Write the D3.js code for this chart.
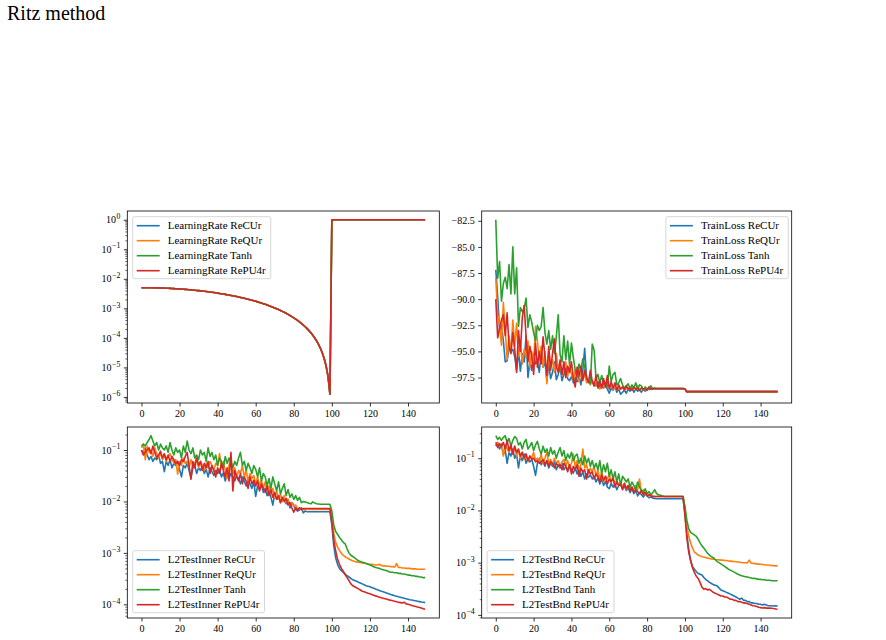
<!doctype html>
<html lang="en">
<head>
<meta charset="UTF-8" />
<title>Ritz method</title>
<script src="https://d3js.org/d3.v7.min.js"></script>
<style>
  body { margin: 0; background: #fff; }
  svg text { font-family: "Liberation Serif", "Times New Roman", serif; fill: #000; }
</style>
</head>
<body>
<svg id="fig" width="886" height="640"></svg>
<script>
// ---- data (one value per epoch, 0..149) ----
const epochs = d3.range(150);
const activations = ['ReCUr', 'ReQUr', 'Tanh', 'RePU4r'];
const colors = ['#1f77b4', '#ff7f0e', '#2ca02c', '#d62728'];
const xTicks = [0, 20, 40, 60, 80, 100, 120, 140];
const lossTicks = [-82.5, -85, -87.5, -90, -92.5, -95, -97.5];
const lrExponents = [0, -1, -2, -3, -4, -5, -6];
const innerExponents = [-1, -2, -3, -4];
const bndExponents = [-1, -2, -3, -4];

// learning rate is the same schedule for all four runs
const learningRate = [
  0.005,0.005,0.004995,0.004989,0.00498,0.004969,0.004956,0.00494,0.004921,0.004901,
  0.004878,0.004852,0.004824,0.004794,0.004762,0.004728,0.004691,0.004652,0.004611,0.004568,
  0.004523,0.004475,0.004426,0.004375,0.004322,0.004268,0.004211,0.004153,0.004094,0.004032,
  0.003969,0.003905,0.00384,0.003773,0.003704,0.003635,0.003564,0.003493,0.00342,0.003347,
  0.003273,0.003197,0.003122,0.003045,0.002968,0.002891,0.002813,0.002735,0.002657,0.002579,
  0.0025,0.002421,0.002343,0.002265,0.002187,0.002109,0.002032,0.001955,0.001878,0.001803,
  0.001727,0.001653,0.00158,0.001507,0.001436,0.001365,0.001296,0.001227,0.00116,0.001095,
  0.001031,0.000968,0.000906,0.000847,0.000789,0.000732,0.000678,0.000625,0.000574,0.000525,
  0.000477,0.000432,0.000389,0.000348,0.000309,0.000272,0.000238,0.000206,0.000176,0.000148,
  0.000122,0.0000993,0.0000786,0.0000602,0.0000443,0.0000308,0.0000197,0.0000111,0.00000493,0.00000123,
  1,1,1,1,1,1,1,1,1,1, 1,1,1,1,1,1,1,1,1,1, 1,1,1,1,1,1,1,1,1,1,
  1,1,1,1,1,1,1,1,1,1, 1,1,1,1,1,1,1,1,1,1
];

const lossReCUr = [
  -87.2,-89.8,-93.0,-92.5,-94.0,-96.0,-95.9,-94.6,-95.0,-94.8,
  -95.5,-96.8,-95.0,-96.9,-95.2,-96.0,-93.5,-97.5,-96.0,-96.8,
  -95.2,-96.2,-96.0,-97.0,-95.0,-96.5,-96.0,-97.8,-96.2,-97.6,
  -97.0,-96.0,-97.7,-97.2,-96.5,-97.8,-97.2,-96.6,-97.6,-97.8,
  -97.4,-98.0,-97.5,-97.9,-97.3,-98.2,-96.8,-94.7,-97.6,-97.9,
  -98.0,-97.8,-98.1,-98.3,-97.9,-98.4,-98.2,-98.5,-98.3,-98.6,
  -99.0,-98.5,-98.7,-98.4,-98.9,-98.6,-99.1,-98.9,-98.7,-99.0,
  -98.6,-98.8,-98.5,-98.9,-98.6,-98.8,-98.7,-98.9,-98.6,-98.8,
  -98.7,-98.6,-98.65,-98.6,-98.6,-98.6,-98.6,-98.6,-98.6,-98.6,
  -98.6,-98.6,-98.6,-98.6,-98.6,-98.6,-98.6,-98.6,-98.6,-98.6,
  -98.6,-98.85,-98.85,-98.85,-98.85,-98.85,-98.85,-98.85,-98.85,-98.85,
  -98.85,-98.85,-98.85,-98.85,-98.85,-98.85,-98.85,-98.85,-98.85,-98.85,
  -98.85,-98.85,-98.85,-98.85,-98.85,-98.85,-98.85,-98.85,-98.85,-98.85,
  -98.85,-98.85,-98.85,-98.85,-98.85,-98.85,-98.85,-98.85,-98.85,-98.85,
  -98.85,-98.85,-98.85,-98.85,-98.85,-98.85,-98.85,-98.85,-98.85,-98.85
];
const lossReQUr = [
  -88.0,-91.5,-92.5,-94.4,-90.3,-93.0,-95.8,-93.5,-95.2,-92.0,
  -94.5,-92.3,-95.5,-94.0,-96.2,-94.8,-95.6,-94.0,-96.5,-95.0,
  -96.2,-92.6,-94.0,-95.8,-94.5,-96.5,-95.0,-98.1,-95.0,-96.5,
  -95.8,-97.0,-95.2,-96.8,-96.0,-97.3,-96.5,-96.0,-97.4,-96.4,
  -97.2,-97.8,-96.8,-97.5,-97.9,-97.0,-97.6,-97.2,-98.0,-97.7,
  -98.2,-97.8,-98.3,-98.0,-98.4,-98.6,-98.3,-98.5,-98.2,-98.0,
  -98.4,-98.3,-98.6,-98.4,-98.7,-98.5,-98.6,-98.4,-98.7,-98.5,
  -98.6,-98.4,-98.7,-98.5,-98.6,-98.3,-98.7,-98.5,-98.6,-98.7,
  -98.55,-98.55,-98.55,-98.55,-98.55,-98.55,-98.55,-98.55,-98.55,-98.55,
  -98.55,-98.55,-98.55,-98.55,-98.55,-98.55,-98.55,-98.55,-98.55,-98.55,
  -98.6,-98.85,-98.85,-98.85,-98.85,-98.85,-98.85,-98.85,-98.85,-98.85,
  -98.85,-98.85,-98.85,-98.85,-98.85,-98.85,-98.85,-98.85,-98.85,-98.85,
  -98.85,-98.85,-98.85,-98.85,-98.85,-98.85,-98.85,-98.85,-98.85,-98.85,
  -98.85,-98.85,-98.85,-98.85,-98.85,-98.85,-98.85,-98.85,-98.85,-98.85,
  -98.85,-98.85,-98.85,-98.85,-98.85,-98.85,-98.85,-98.85,-98.85,-98.85
];
const lossTanh = [
  -82.4,-88.0,-86.4,-90.2,-88.5,-87.9,-89.0,-86.7,-89.5,-85.0,
  -89.5,-87.0,-92.6,-90.8,-91.2,-90.9,-89.9,-92.7,-91.5,-92.2,
  -93.2,-94.0,-92.5,-93.0,-92.6,-90.8,-93.2,-94.3,-93.0,-94.8,
  -93.5,-95.2,-93.6,-91.5,-95.3,-96.0,-93.5,-95.8,-94.0,-96.3,
  -94.2,-95.6,-96.8,-97.4,-96.2,-96.8,-95.7,-96.5,-97.5,-97.8,
  -98.1,-94.3,-94.9,-97.6,-97.2,-98.0,-97.3,-98.2,-98.0,-98.4,
  -96.4,-97.9,-97.2,-97.0,-98.2,-98.0,-97.6,-98.2,-98.5,-98.3,
  -98.1,-98.6,-98.2,-98.5,-98.0,-98.6,-98.2,-98.3,-98.7,-98.4,
  -98.6,-98.5,-98.3,-98.6,-98.5,-98.55,-98.55,-98.55,-98.55,-98.55,
  -98.55,-98.55,-98.55,-98.55,-98.55,-98.55,-98.55,-98.55,-98.55,-98.55,
  -98.6,-98.85,-98.85,-98.85,-98.85,-98.85,-98.85,-98.85,-98.85,-98.85,
  -98.85,-98.85,-98.85,-98.85,-98.85,-98.85,-98.85,-98.85,-98.85,-98.85,
  -98.85,-98.85,-98.85,-98.85,-98.85,-98.85,-98.85,-98.85,-98.85,-98.85,
  -98.85,-98.85,-98.85,-98.85,-98.85,-98.85,-98.85,-98.85,-98.85,-98.85,
  -98.85,-98.85,-98.85,-98.85,-98.85,-98.85,-98.85,-98.85,-98.85,-98.85
];
const lossRePU4r = [
  -90.0,-93.7,-92.8,-92.0,-91.5,-93.5,-91.3,-94.5,-95.2,-93.2,
  -94.8,-97.0,-93.0,-95.0,-91.8,-90.6,-93.5,-96.0,-94.5,-95.5,
  -97.2,-94.2,-96.5,-95.0,-96.2,-93.6,-95.5,-97.3,-94.5,-96.8,
  -95.2,-93.8,-96.5,-97.0,-95.8,-97.2,-96.0,-97.5,-96.4,-97.0,
  -96.0,-97.6,-98.4,-96.5,-97.3,-96.4,-97.8,-96.8,-97.5,-98.0,
  -96.8,-97.9,-98.3,-97.3,-98.5,-97.8,-98.5,-97.6,-98.4,-97.3,
  -98.6,-97.9,-98.5,-98.0,-98.7,-98.2,-98.6,-98.4,-98.7,-98.3,
  -98.6,-98.5,-98.7,-98.4,-98.6,-98.5,-98.7,-98.5,-98.6,-98.6,
  -98.7,-98.4,-98.6,-98.55,-98.55,-98.55,-98.55,-98.55,-98.55,-98.55,
  -98.55,-98.55,-98.55,-98.55,-98.55,-98.55,-98.55,-98.55,-98.55,-98.55,
  -98.6,-98.85,-98.85,-98.85,-98.85,-98.85,-98.85,-98.85,-98.85,-98.85,
  -98.85,-98.85,-98.85,-98.85,-98.85,-98.85,-98.85,-98.85,-98.85,-98.85,
  -98.85,-98.85,-98.85,-98.85,-98.85,-98.85,-98.85,-98.85,-98.85,-98.85,
  -98.85,-98.85,-98.85,-98.85,-98.85,-98.85,-98.85,-98.85,-98.85,-98.85,
  -98.85,-98.85,-98.85,-98.85,-98.85,-98.85,-98.85,-98.85,-98.85,-98.85
];

const innerReCUr = [
  0.1,0.085,0.11,0.08,0.065,0.075,0.06,0.07,0.065,0.08,
  0.055,0.06,0.038,0.06,0.05,0.065,0.045,0.055,0.05,0.06,
  0.042,0.03,0.05,0.045,0.055,0.04,0.029,0.045,0.05,0.035,
  0.045,0.04,0.05,0.035,0.042,0.03,0.045,0.038,0.032,0.04,
  0.035,0.042,0.03,0.036,0.025,0.033,0.028,0.035,0.03,0.025,
  0.032,0.028,0.022,0.03,0.025,0.02,0.027,0.022,0.018,0.024,
  0.0125,0.02,0.017,0.021,0.015,0.018,0.013,0.016,0.012,0.0085,
  0.014,0.011,0.013,0.0095,0.012,0.0105,0.009,0.011,0.0075,0.0095,
  0.0085,0.007,0.0065,0.0068,0.0075,0.006,0.0065,0.0063,0.0063,0.0063,
  0.0063,0.0063,0.0063,0.0063,0.0063,0.0063,0.0063,0.0063,0.0063,0.0063,
  0.0035,0.0014,0.0008,0.0006,0.0005,0.00045,0.00042,0.00038,0.00036,0.00034,
  0.00032,0.0003,0.00029,0.00028,0.00027,0.00026,0.00025,0.00024,0.00023,0.000225,
  0.00022,0.000212,0.000205,0.000198,0.000192,0.000186,0.00018,0.000175,0.00017,0.000165,
  0.00016,0.000155,0.000151,0.000147,0.000144,0.00014,0.000137,0.000134,0.000131,0.000128,
  0.000126,0.000123,0.000121,0.000119,0.000117,0.000115,0.000113,0.000111,0.00011,0.000108
];
const innerReQUr = [
  0.11,0.13,0.065,0.12,0.09,0.1,0.075,0.11,0.085,0.07,
  0.09,0.065,0.08,0.06,0.075,0.085,0.07,0.055,0.065,0.034,
  0.06,0.05,0.07,0.055,0.06,0.045,0.065,0.05,0.055,0.07,
  0.045,0.06,0.05,0.04,0.055,0.045,0.06,0.05,0.04,0.055,
  0.05,0.085,0.045,0.06,0.04,0.028,0.05,0.07,0.035,0.045,
  0.03,0.04,0.035,0.05,0.03,0.04,0.025,0.035,0.028,0.032,
  0.022,0.03,0.02,0.026,0.018,0.024,0.016,0.02,0.014,0.018,
  0.012,0.016,0.011,0.014,0.01,0.013,0.0095,0.011,0.0085,0.0095,
  0.008,0.0085,0.007,0.0075,0.0068,0.0072,0.0068,0.0072,0.007,0.007,
  0.007,0.007,0.007,0.007,0.007,0.007,0.007,0.007,0.007,0.007,
  0.0045,0.0024,0.0016,0.0013,0.00112,0.00098,0.0009,0.00084,0.0008,0.00076,
  0.00073,0.0007,0.00068,0.00067,0.00066,0.00065,0.00064,0.00063,0.00062,0.00061,
  0.0006,0.0006,0.00059,0.00058,0.00058,0.0006,0.00057,0.00056,0.00056,0.00055,
  0.00055,0.00054,0.00054,0.00053,0.00062,0.00052,0.00052,0.00051,0.00051,0.0005,
  0.0005,0.0005,0.00049,0.00049,0.00049,0.00048,0.00048,0.00048,0.00048,0.00048
];
const innerTanh = [
  0.12,0.13,0.12,0.14,0.16,0.19,0.15,0.12,0.14,0.1,
  0.13,0.11,0.1,0.12,0.09,0.14,0.1,0.08,0.11,0.09,
  0.1,0.07,0.12,0.09,0.15,0.1,0.085,0.11,0.07,0.08,
  0.065,0.1,0.08,0.09,0.06,0.11,0.075,0.09,0.065,0.08,
  0.05,0.07,0.06,0.045,0.075,0.055,0.07,0.06,0.045,0.06,
  0.05,0.07,0.09,0.05,0.06,0.04,0.055,0.045,0.035,0.05,
  0.042,0.03,0.045,0.025,0.035,0.03,0.02,0.028,0.018,0.03,
  0.022,0.016,0.024,0.014,0.018,0.022,0.013,0.017,0.012,0.014,
  0.011,0.013,0.0105,0.012,0.0095,0.01,0.0098,0.0095,0.0092,0.009,
  0.0098,0.0093,0.009,0.0089,0.0088,0.0088,0.0088,0.0088,0.0088,0.0088,
  0.0065,0.0035,0.0026,0.0023,0.002,0.0018,0.0016,0.0015,0.0012,0.001,
  0.0009,0.00085,0.0008,0.00075,0.0007,0.00068,0.00066,0.00064,0.00062,0.0006,
  0.00058,0.00056,0.00054,0.00052,0.00051,0.0005,0.00048,0.00047,0.00046,0.00045,
  0.00043,0.00042,0.00042,0.00041,0.00041,0.0004,0.0004,0.00039,0.00039,0.00038,
  0.00037,0.00037,0.00036,0.00036,0.00035,0.00035,0.00034,0.00034,0.00033,0.00033
];
const innerRePU4r = [
  0.1,0.08,0.09,0.1,0.11,0.085,0.12,0.09,0.07,0.08,
  0.095,0.07,0.085,0.065,0.08,0.06,0.075,0.065,0.055,0.06,
  0.05,0.065,0.06,0.075,0.09,0.05,0.027,0.06,0.045,0.07,
  0.05,0.06,0.04,0.055,0.045,0.06,0.035,0.05,0.04,0.03,
  0.045,0.035,0.055,0.04,0.03,0.045,0.025,0.09,0.016,0.04,
  0.03,0.025,0.035,0.022,0.03,0.025,0.018,0.03,0.022,0.026,
  0.02,0.025,0.016,0.022,0.018,0.015,0.02,0.013,0.017,0.012,
  0.015,0.011,0.013,0.0095,0.012,0.01,0.0115,0.0085,0.0095,0.0075,
  0.0062,0.0075,0.0068,0.0075,0.007,0.0073,0.0073,0.0073,0.0073,0.0073,
  0.0073,0.0073,0.0073,0.0073,0.0073,0.0073,0.0073,0.0073,0.0073,0.0073,
  0.004,0.0018,0.0011,0.00075,0.0006,0.0005,0.00044,0.00038,0.00033,0.00029,
  0.00025,0.00023,0.00022,0.00021,0.0002,0.00019,0.00018,0.000175,0.00017,0.000165,
  0.00016,0.000155,0.00015,0.000146,0.000142,0.000138,0.000134,0.000131,0.000128,0.000125,
  0.000122,0.00012,0.000117,0.000115,0.000112,0.00011,0.000108,0.000106,0.00011,0.000102,
  0.0001,0.000098,0.000095,0.000093,0.000091,0.000089,0.000087,0.000085,0.000082,0.00008
];

const bndReCUr = [
  0.17,0.2,0.15,0.18,0.12,0.14,0.08,0.13,0.11,0.15,
  0.1,0.12,0.065,0.11,0.09,0.12,0.08,0.1,0.085,0.095,
  0.07,0.047,0.08,0.1,0.075,0.085,0.07,0.09,0.065,0.08,
  0.07,0.085,0.06,0.075,0.065,0.08,0.06,0.07,0.058,0.075,
  0.06,0.052,0.065,0.05,0.06,0.045,0.055,0.04,0.05,0.043,
  0.048,0.04,0.045,0.035,0.042,0.032,0.04,0.03,0.036,0.028,
  0.026,0.033,0.028,0.032,0.025,0.03,0.033,0.026,0.029,0.024,
  0.027,0.022,0.026,0.021,0.024,0.019,0.022,0.02,0.018,0.021,
  0.019,0.0175,0.018,0.0172,0.017,0.0167,0.0167,0.0167,0.0167,0.0167,
  0.0167,0.0167,0.0167,0.0167,0.0167,0.0167,0.0167,0.0167,0.0167,0.0167,
  0.009,0.0036,0.0018,0.0011,0.00085,0.00075,0.00068,0.00062,0.0006,0.00058,
  0.00052,0.00048,0.00045,0.00042,0.0004,0.00038,0.00037,0.00036,0.00033,0.0003,
  0.00029,0.00028,0.00027,0.00026,0.00025,0.00024,0.00023,0.00022,0.00021,0.0002,
  0.00021,0.00019,0.00019,0.00018,0.00018,0.00017,0.00017,0.000165,0.000165,0.00016,
  0.00016,0.000155,0.00016,0.000155,0.00015,0.00015,0.00015,0.000148,0.00015,0.000148
];
const bndReQUr = [
  0.19,0.2,0.17,0.19,0.11,0.18,0.15,0.13,0.16,0.12,
  0.17,0.11,0.14,0.1,0.13,0.095,0.12,0.085,0.11,0.1,
  0.13,0.09,0.1,0.085,0.12,0.08,0.1,0.13,0.08,0.095,
  0.075,0.1,0.08,0.09,0.07,0.085,0.095,0.07,0.09,0.065,
  0.08,0.12,0.07,0.09,0.06,0.075,0.15,0.065,0.075,0.05,
  0.065,0.055,0.07,0.045,0.06,0.038,0.055,0.035,0.045,0.04,
  0.05,0.035,0.042,0.032,0.038,0.03,0.035,0.028,0.033,0.025,
  0.03,0.026,0.028,0.024,0.03,0.025,0.04,0.022,0.025,0.02,
  0.022,0.019,0.02,0.019,0.0185,0.0185,0.0185,0.0185,0.0185,0.0185,
  0.0185,0.0185,0.0185,0.0185,0.0185,0.0185,0.0185,0.0185,0.0185,0.0185,
  0.011,0.005,0.0032,0.0024,0.0019,0.0016,0.0015,0.0014,0.00135,0.0013,
  0.00128,0.00125,0.00123,0.0012,0.00118,0.00117,0.00115,0.00114,0.00113,0.00112,
  0.00112,0.0011,0.0011,0.00108,0.00107,0.00106,0.00105,0.00104,0.00103,0.00102,
  0.00101,0.001,0.001,0.00099,0.00112,0.00098,0.00097,0.00096,0.00095,0.00094,
  0.00093,0.00092,0.00091,0.0009,0.0009,0.00089,0.00088,0.00088,0.00087,0.00087
];
const bndTanh = [
  0.27,0.23,0.25,0.22,0.25,0.27,0.2,0.24,0.17,0.22,
  0.26,0.24,0.18,0.2,0.15,0.2,0.23,0.15,0.17,0.2,
  0.14,0.18,0.21,0.15,0.12,0.17,0.13,0.15,0.11,0.16,
  0.12,0.14,0.1,0.13,0.16,0.11,0.14,0.09,0.12,0.1,
  0.13,0.09,0.11,0.12,0.08,0.1,0.075,0.11,0.08,0.1,
  0.07,0.09,0.065,0.08,0.06,0.09,0.05,0.075,0.055,0.08,
  0.045,0.06,0.04,0.055,0.035,0.05,0.03,0.045,0.04,0.035,
  0.04,0.028,0.035,0.03,0.025,0.035,0.028,0.024,0.022,0.026,
  0.021,0.023,0.02,0.022,0.025,0.021,0.02,0.0195,0.019,0.0185,
  0.0185,0.0185,0.0185,0.0185,0.0185,0.0185,0.0185,0.0185,0.0185,0.0185,
  0.012,0.0065,0.0045,0.0038,0.0036,0.0034,0.0032,0.0028,0.0024,0.0021,
  0.0019,0.0017,0.0015,0.0014,0.0013,0.00125,0.00115,0.00105,0.001,0.00095,
  0.0009,0.00085,0.0008,0.00075,0.00072,0.00069,0.00066,0.00063,0.0006,0.00058,
  0.00056,0.00055,0.00054,0.00053,0.00052,0.00051,0.0005,0.0005,0.00049,0.00048,
  0.00048,0.00047,0.00047,0.00046,0.00046,0.00046,0.00045,0.00045,0.00045,0.00045
];
const bndRePU4r = [
  0.2,0.16,0.19,0.17,0.2,0.15,0.22,0.14,0.18,0.12,
  0.17,0.13,0.15,0.11,0.13,0.1,0.12,0.09,0.11,0.095,
  0.1,0.085,0.09,0.08,0.085,0.095,0.075,0.09,0.07,0.085,
  0.08,0.065,0.08,0.07,0.075,0.06,0.08,0.07,0.055,0.075,
  0.05,0.07,0.06,0.075,0.045,0.065,0.055,0.06,0.04,0.06,
  0.05,0.055,0.04,0.05,0.045,0.035,0.048,0.038,0.045,0.032,
  0.04,0.035,0.042,0.028,0.035,0.03,0.032,0.025,0.033,0.026,
  0.03,0.024,0.028,0.022,0.025,0.023,0.021,0.024,0.02,0.022,
  0.019,0.02,0.019,0.0185,0.0185,0.0185,0.0185,0.0185,0.0185,0.0185,
  0.0185,0.0185,0.0185,0.0185,0.0185,0.0185,0.0185,0.0185,0.0185,0.0185,
  0.008,0.003,0.0016,0.0011,0.0008,0.00065,0.00055,0.0005,0.00042,0.00034,
  0.00031,0.00032,0.0003,0.00031,0.00029,0.00027,0.00026,0.00025,0.00024,0.00023,
  0.00023,0.00022,0.00022,0.00021,0.0002,0.0002,0.00019,0.00019,0.00018,0.00018,
  0.000175,0.00017,0.000168,0.000165,0.00016,0.000155,0.00015,0.000148,0.000145,0.00014,
  0.000138,0.000136,0.000138,0.000135,0.000135,0.000136,0.000134,0.000133,0.00013,0.000128
];

// ---- layout ----
const panels = [
  { name: 'LearningRate', series: [learningRate, learningRate, learningRate, learningRate],
    log: true, ticks: lrExponents, x0: 127.3, x1: 439.3, y0: 211, y1: 403, legend: 'upper left' },
  { name: 'TrainLoss', series: [lossReCUr, lossReQUr, lossTanh, lossRePU4r],
    log: false, ticks: lossTicks, x0: 481.7, x1: 791.7, y0: 211, y1: 403, legend: 'upper right' },
  { name: 'L2TestInner', series: [innerReCUr, innerReQUr, innerTanh, innerRePU4r],
    log: true, ticks: innerExponents, x0: 127.3, x1: 439.3, y0: 427, y1: 618, legend: 'lower left' },
  { name: 'L2TestBnd', series: [bndReCUr, bndReQUr, bndTanh, bndRePU4r],
    log: true, ticks: bndExponents, x0: 481.7, x1: 791.7, y0: 427, y1: 618, legend: 'lower left' },
];

const svg = d3.select('#fig');
svg.append('rect').attr('width', 886).attr('height', 640).attr('fill', '#fff');
svg.append('text').attr('x', 7).attr('y', 20).style('font-size', '20px').text('Ritz method');

function styleAxis(ax) {
  ax.attr('font-size', 10).attr('font-family', null);
  ax.select('.domain').remove();
  ax.selectAll('.tick line').attr('stroke', '#000').attr('stroke-width', 0.8);
}

panels.forEach((p) => {
  const g = svg.append('g');

  // x scale with matplotlib-like 5% margins
  const xPad = 0.05 * (d3.max(epochs) - d3.min(epochs));
  const x = d3.scaleLinear()
    .domain([d3.min(epochs) - xPad, d3.max(epochs) + xPad])
    .range([p.x0, p.x1]);

  const all = p.series.flat();
  let y;
  if (p.log) {
    const lo = Math.log10(d3.min(all));
    const hi = Math.log10(d3.max(all));
    const pad = 0.05 * (hi - lo);
    y = d3.scaleLog().domain([10 ** (lo - pad), 10 ** (hi + pad)]).range([p.y1, p.y0]);
  } else {
    const lo = d3.min(all);
    const hi = d3.max(all);
    const pad = 0.05 * (hi - lo);
    y = d3.scaleLinear().domain([lo - pad, hi + pad]).range([p.y1, p.y0]);
  }

  // lines
  const line = d3.line().x((d, i) => x(epochs[i])).y((d) => y(d));
  p.series.forEach((s, k) => {
    g.append('path')
      .datum(s)
      .attr('d', line)
      .attr('fill', 'none')
      .attr('stroke', colors[k])
      .attr('stroke-width', 1.6)
      .attr('stroke-linejoin', 'round');
  });

  // frame
  g.append('rect')
    .attr('x', p.x0).attr('y', p.y0)
    .attr('width', p.x1 - p.x0).attr('height', p.y1 - p.y0)
    .attr('fill', 'none').attr('stroke', '#000').attr('stroke-width', 0.8);

  // x axis
  const xa = g.append('g')
    .attr('transform', `translate(0,${p.y1})`)
    .call(d3.axisBottom(x).tickValues(xTicks).tickSize(3.5).tickPadding(3.5).tickFormat(d3.format('d')));
  styleAxis(xa);

  // y axis
  if (p.log) {
    const [dlo, dhi] = y.domain();
    const minors = [];
    for (let k = Math.floor(Math.log10(dlo)); k <= Math.ceil(Math.log10(dhi)); k++) {
      for (let m = 2; m <= 9; m++) {
        const v = m * 10 ** k;
        if (v >= dlo && v <= dhi) minors.push(v);
      }
    }
    const ym = g.append('g')
      .attr('transform', `translate(${p.x0},0)`)
      .call(d3.axisLeft(y).tickValues(minors).tickSize(2).tickFormat(''));
    styleAxis(ym);
    ym.selectAll('.tick line').attr('stroke-width', 0.6);

    const ya = g.append('g')
      .attr('transform', `translate(${p.x0},0)`)
      .call(d3.axisLeft(y).tickValues(p.ticks.map((e) => 10 ** e)).tickSize(3.5).tickPadding(3.5).tickFormat(''));
    styleAxis(ya);
    ya.selectAll('.tick text').each(function (d) {
      const e = Math.round(Math.log10(d));
      const t = d3.select(this);
      t.append('tspan').text('10');
      t.append('tspan').attr('dy', -4.5).attr('dx', 0.5).style('font-size', '7.8px')
        .text(e < 0 ? '\u2212' + -e : String(e));
    });
  } else {
    const ya = g.append('g')
      .attr('transform', `translate(${p.x0},0)`)
      .call(d3.axisLeft(y).tickValues(p.ticks).tickSize(3.5).tickPadding(3.5)
        .tickFormat((d) => (d < 0 ? '\u2212' : '') + Math.abs(d).toFixed(1)));
    styleAxis(ya);
  }

  // legend
  const lg = g.append('g');
  const box = lg.append('rect')
    .attr('rx', 2).attr('ry', 2)
    .attr('fill', '#fff').attr('fill-opacity', 0.8)
    .attr('stroke', '#cccccc').attr('stroke-width', 0.8);
  let maxW = 0;
  activations.forEach((a, k) => {
    const cy = 9 + 15 * k;
    lg.append('line')
      .attr('x1', 4).attr('x2', 27).attr('y1', cy).attr('y2', cy)
      .attr('stroke', colors[k]).attr('stroke-width', 1.6);
    const t = lg.append('text')
      .attr('x', 35).attr('y', cy).attr('dy', '0.34em')
      .style('font-size', '11px')
      .text(p.name + ' ' + a);
    maxW = Math.max(maxW, t.node().getComputedTextLength());
  });
  const bw = 35 + maxW + 5;
  const bh = 62;
  box.attr('width', bw).attr('height', bh);
  let lx = p.x0 + 5.4;
  let ly = p.y0 + 5.7;
  if (p.legend === 'upper right') lx = p.x1 - 3.4 - bw;
  if (p.legend === 'lower left') ly = p.y1 - 5.3 - bh;
  lg.attr('transform', `translate(${lx},${ly})`);
});
</script>
</body>
</html>
